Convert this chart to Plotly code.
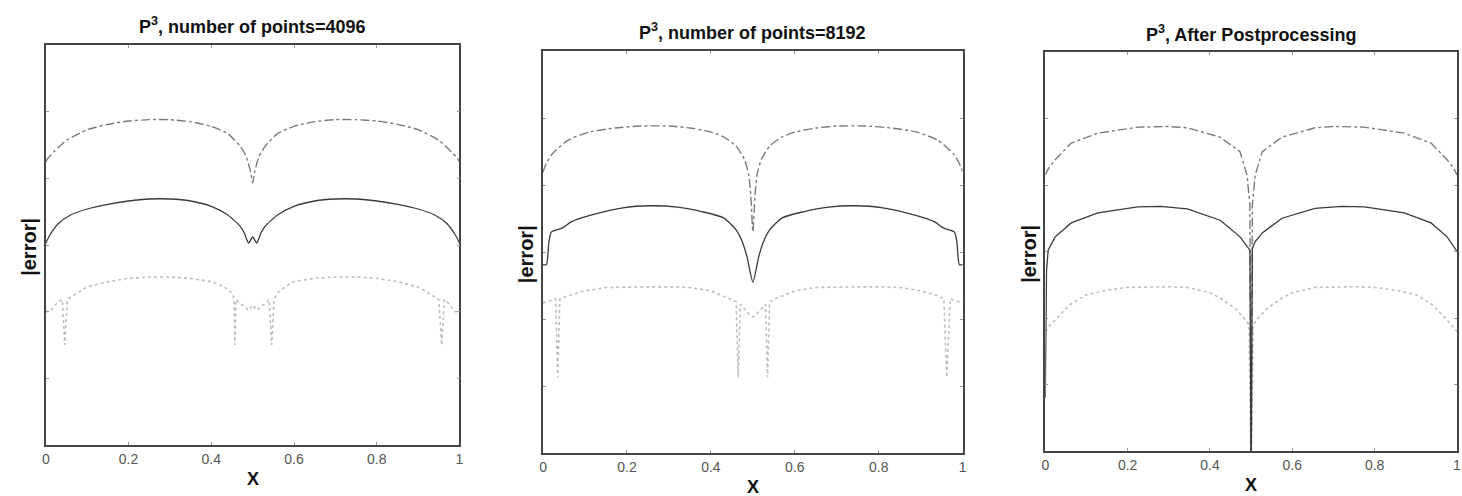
import plotly.graph_objects as go

# ---------------- data: log10(|error|) ----------------
# Panel 1 : P3, number of points = 4096
p1_dd_x = [0, 0.005, 0.02, 0.05, 0.1, 0.15, 0.2, 0.25, 0.3, 0.35, 0.4, 0.44, 0.47, 0.485, 0.495,
           0.5,
           0.505, 0.515, 0.53, 0.56, 0.6, 0.65, 0.7, 0.75, 0.8, 0.85, 0.9, 0.95, 0.98, 0.995, 1.0]
p1_dd_y = [-7.75, -7.70, -7.60, -7.43, -7.27, -7.19, -7.14, -7.12, -7.12, -7.15, -7.22, -7.33, -7.52, -7.68, -7.90,
           -8.07,
           -7.90, -7.68, -7.52, -7.33, -7.22, -7.15, -7.12, -7.12, -7.14, -7.19, -7.27, -7.43, -7.60, -7.70, -7.75]

p1_so_x = [0, 0.01, 0.03, 0.06, 0.1, 0.15, 0.2, 0.25, 0.3, 0.35, 0.4, 0.44, 0.47, 0.48, 0.49,
           0.5,
           0.51, 0.52, 0.53, 0.56, 0.6, 0.65, 0.7, 0.75, 0.8, 0.85, 0.9, 0.94, 0.97, 0.99, 1.0]
p1_so_y = [-8.97, -8.85, -8.68, -8.55, -8.46, -8.39, -8.34, -8.31, -8.31, -8.34, -8.42, -8.55, -8.72, -8.82, -8.97,
           -8.88,
           -8.97, -8.82, -8.72, -8.55, -8.42, -8.34, -8.31, -8.31, -8.34, -8.39, -8.46, -8.55, -8.68, -8.85, -8.97]

p1_do_x = [0, 0.01, 0.03, 0.04, 0.046, 0.052, 0.06, 0.08, 0.1, 0.15, 0.2, 0.25, 0.3, 0.35, 0.4, 0.43, 0.45,
           0.455, 0.457, 0.46, 0.47, 0.48, 0.49,
           0.5,
           0.51, 0.52, 0.53, 0.54, 0.546, 0.552, 0.56, 0.58, 0.6, 0.65, 0.7, 0.75, 0.8, 0.85, 0.9, 0.92,
           0.94, 0.95, 0.957, 0.963, 0.97, 0.99, 1.0]
p1_do_y = [-10.0, -10.0, -9.85, -9.82, -10.5, -9.82, -9.78, -9.70, -9.63, -9.55, -9.50, -9.48, -9.48, -9.50, -9.55, -9.62, -9.72,
           -9.80, -10.5, -9.82, -9.88, -9.92, -9.98,
           -9.90,
           -9.98, -9.92, -9.88, -9.82, -10.5, -9.80, -9.72, -9.62, -9.55, -9.50, -9.48, -9.48, -9.50, -9.55, -9.63, -9.70,
           -9.78, -9.82, -10.5, -9.82, -9.85, -10.0, -10.0]

# Panel 2 : P3, number of points = 8192
p2_dd_x = [0, 0.005, 0.02, 0.06, 0.11, 0.17, 0.23, 0.3, 0.35, 0.4, 0.43, 0.46, 0.48, 0.49, 0.495,
           0.5,
           0.505, 0.51, 0.52, 0.54, 0.57, 0.6, 0.65, 0.7, 0.77, 0.83, 0.89, 0.94, 0.98, 0.995, 1.0]
p2_dd_y = [-7.81, -7.72, -7.55, -7.33, -7.21, -7.15, -7.12, -7.12, -7.15, -7.21, -7.28, -7.42, -7.62, -7.85, -8.15,
           -8.70,
           -8.15, -7.85, -7.62, -7.42, -7.28, -7.21, -7.15, -7.12, -7.12, -7.15, -7.21, -7.33, -7.55, -7.72, -7.81]

p2_so_x = [0, 0.008, 0.014, 0.02, 0.047, 0.067, 0.114, 0.19, 0.256, 0.32, 0.38, 0.43, 0.46, 0.475, 0.486,
           0.5,
           0.514, 0.525, 0.54, 0.57, 0.62, 0.68, 0.744, 0.81, 0.886, 0.933, 0.953, 0.98, 0.986, 0.992, 1.0]
p2_so_y = [-9.19, -9.19, -8.85, -8.70, -8.64, -8.55, -8.45, -8.34, -8.31, -8.33, -8.40, -8.49, -8.67, -8.85, -9.07,
           -9.45,
           -9.07, -8.85, -8.67, -8.49, -8.40, -8.33, -8.31, -8.34, -8.45, -8.55, -8.64, -8.70, -8.85, -9.19, -9.19]

p2_do_x = [0, 0.02, 0.03, 0.035, 0.04, 0.06, 0.1, 0.15, 0.2, 0.25, 0.3, 0.35, 0.4, 0.44, 0.46, 0.465, 0.47, 0.48, 0.49,
           0.5,
           0.51, 0.52, 0.53, 0.535, 0.54, 0.56, 0.6, 0.65, 0.7, 0.75, 0.8, 0.85, 0.9, 0.94, 0.955, 0.962, 0.97, 0.98, 1.0]
p2_do_y = [-9.76, -9.72, -9.70, -10.87, -9.70, -9.65, -9.58, -9.53, -9.52, -9.52, -9.52, -9.53, -9.58, -9.68, -9.74, -10.87, -9.78, -9.85, -9.92,
           -9.97,
           -9.92, -9.85, -9.78, -10.87, -9.74, -9.68, -9.58, -9.53, -9.52, -9.52, -9.52, -9.53, -9.58, -9.65, -9.70, -10.87, -9.70, -9.72, -9.76]

# Panel 3 : P3, after postprocessing
p3_dd_x = [0, 0.008, 0.024, 0.063, 0.128, 0.225, 0.3, 0.345, 0.425, 0.473, 0.49, 0.497,
           0.5,
           0.503, 0.51, 0.527, 0.575, 0.655, 0.7, 0.775, 0.872, 0.937, 0.976, 0.992, 1.0]
p3_dd_y = [-7.85, -7.75, -7.62, -7.37, -7.22, -7.13, -7.12, -7.14, -7.28, -7.50, -7.85, -8.30,
           -12.5,
           -8.30, -7.85, -7.50, -7.28, -7.14, -7.12, -7.13, -7.22, -7.37, -7.62, -7.75, -7.85]

p3_so_x = [0, 0.003, 0.007, 0.024, 0.063, 0.128, 0.225, 0.28, 0.345, 0.425, 0.473, 0.497,
           0.5,
           0.503, 0.51, 0.527, 0.575, 0.655, 0.72, 0.775, 0.872, 0.937, 0.976, 0.993, 1.0]
p3_so_y = [-11.2, -9.3, -8.98, -8.78, -8.57, -8.42, -8.33, -8.32, -8.36, -8.53, -8.78, -8.98,
           -12.5,
           -8.95, -8.85, -8.72, -8.50, -8.35, -8.32, -8.33, -8.42, -8.57, -8.78, -8.95, -9.0]

p3_do_x = [0, 0.01, 0.024, 0.06, 0.1, 0.15, 0.2, 0.25, 0.3, 0.345, 0.4, 0.425, 0.46, 0.48, 0.495,
           0.5,
           0.505, 0.52, 0.54, 0.575, 0.6, 0.655, 0.7, 0.75, 0.8, 0.85, 0.9, 0.94, 0.976, 0.99, 1.0]
p3_do_y = [-10.2, -10.12, -10.03, -9.80, -9.65, -9.58, -9.54, -9.53, -9.53, -9.54, -9.62, -9.70, -9.85, -9.98, -10.10,
           -12.5,
           -10.10, -9.98, -9.85, -9.70, -9.62, -9.54, -9.53, -9.53, -9.54, -9.58, -9.65, -9.80, -10.03, -10.12, -10.2]

titles = ["P<sup>3</sup>, number of points=4096",
          "P<sup>3</sup>, number of points=8192",
          "P<sup>3</sup>, After Postprocessing"]
x_ticks = [0, 0.2, 0.4, 0.6, 0.8, 1]
x_tick_labels = ["0", "0.2", "0.4", "0.6", "0.8", "1"]

# ---------------- figure ----------------
W, H = 1462, 496
panels = [
    # (left, right, top, bottom) in pixels
    (42, 458, 45, 445),
    (542, 964, 51, 453),
    (1047, 1461, 52, 451),
]
series = [
    (p1_dd_x, p1_dd_y, p1_so_x, p1_so_y, p1_do_x, p1_do_y),
    (p2_dd_x, p2_dd_y, p2_so_x, p2_so_y, p2_do_x, p2_do_y),
    (p3_dd_x, p3_dd_y, p3_so_x, p3_so_y, p3_do_x, p3_do_y),
]

fig = go.Figure()
FONT = "Liberation Sans Narrow, Liberation Sans, Arial"

for i, ((l, r, t, b), s) in enumerate(zip(panels, series)):
    n = "" if i == 0 else str(i + 1)
    xa, ya = "x" + n, "y" + n
    ddx, ddy, sox, soy, dox, doy = s
    shp = "spline" if i < 2 else "linear"
    fig.add_trace(go.Scatter(x=dox, y=[10 ** v for v in doy], mode="lines", xaxis=xa, yaxis=ya,
                             line=dict(color="#bdbdbd", width=1.6, dash="dot"), showlegend=False))
    fig.add_trace(go.Scatter(x=ddx, y=[10 ** v for v in ddy], mode="lines", xaxis=xa, yaxis=ya,
                             line=dict(color="#7a7a7a", width=1.4, dash="dashdot", shape=shp, smoothing=0.6),
                             showlegend=False))
    fig.add_trace(go.Scatter(x=sox, y=[10 ** v for v in soy], mode="lines", xaxis=xa, yaxis=ya,
                             line=dict(color="#3a3a3a", width=1.3, shape=shp, smoothing=0.6),
                             showlegend=False))

    axcommon = dict(showline=True, linecolor="#444", linewidth=1.5, mirror="ticks",
                    ticks="inside", ticklen=3, tickcolor="#999", showgrid=False, zeroline=False)
    fig.layout["xaxis" + n] = dict(domain=[l / W, r / W], anchor=ya, range=[0, 1],
                                   tickvals=x_ticks, ticktext=x_tick_labels,
                                   tickfont=dict(family="Liberation Sans, Arial", size=14, color="#555"),
                                   **axcommon)
    fig.layout["yaxis" + n] = dict(domain=[1 - b / H, 1 - t / H], anchor=xa, type="log",
                                   range=[-12, -6], dtick=1, showticklabels=False, **axcommon)

    cx = (l + r) / 2 / W
    fig.add_annotation(text="<b>" + titles[i] + "</b>", x=cx, y=1 - (t - 19) / H,
                       xref="paper", yref="paper", showarrow=False, xanchor="center", yanchor="middle",
                       font=dict(family=FONT, size=18, color="#111"))
    fig.add_annotation(text="<b>X</b>", x=cx, y=1 - (b + 34) / H, xref="paper", yref="paper",
                       showarrow=False, xanchor="center", yanchor="middle",
                       font=dict(family=FONT, size=18, color="#111"))
    fig.add_annotation(text="<b>|error|</b>", x=(l - 17) / W, y=1 - ((t + b) / 2 + 2) / H,
                       xref="paper", yref="paper", showarrow=False, textangle=-90,
                       xanchor="center", yanchor="middle",
                       font=dict(family="Liberation Sans, Arial", size=20, color="#111"))

fig.update_layout(width=W, height=H, margin=dict(l=0, r=0, t=0, b=0),
                  plot_bgcolor="white", paper_bgcolor="white")

fig.write_html("out.html")
